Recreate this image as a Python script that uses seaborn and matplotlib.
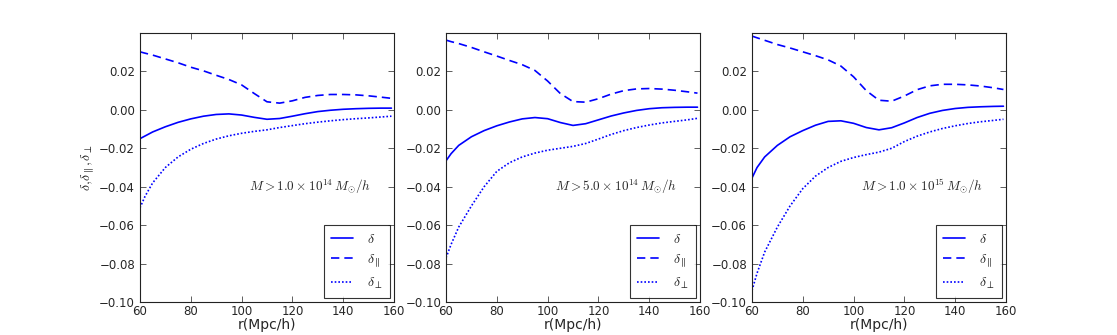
import numpy as np
import pandas as pd
import matplotlib
matplotlib.use("Agg")
import matplotlib.pyplot as plt
import seaborn as sns

# --- data ---
r = [60, 62, 65, 70, 75, 80, 85, 90, 95, 100, 105, 110, 115, 120, 125, 130, 135, 140, 145, 150, 155, 159]

# M > 1.0e14
d_1e14 = [-0.0150, -0.0136, -0.0115, -0.0088, -0.0065, -0.0047, -0.0033, -0.0024, -0.0021, -0.0027, -0.0039,
          -0.0049, -0.0045, -0.0033, -0.0020, -0.0009, -0.0002, 0.0003, 0.0006, 0.0008, 0.0009, 0.0009]
dpar_1e14 = [0.0302, 0.0295, 0.0285, 0.0265, 0.0245, 0.0222, 0.0203, 0.0180, 0.0158, 0.0130, 0.0085,
             0.0042, 0.0035, 0.0047, 0.0065, 0.0075, 0.0080, 0.0080, 0.0078, 0.0073, 0.0066, 0.0060]
dperp_1e14 = [-0.0510, -0.0450, -0.0380, -0.0300, -0.0245, -0.0205, -0.0175, -0.0152, -0.0135, -0.0122, -0.0112,
              -0.0104, -0.0092, -0.0082, -0.0072, -0.0064, -0.0057, -0.0051, -0.0046, -0.0042, -0.0037, -0.0033]

# M > 5.0e14
d_5e14 = [-0.0265, -0.0228, -0.0185, -0.0140, -0.0108, -0.0083, -0.0063, -0.0047, -0.0040, -0.0046, -0.0066,
          -0.0081, -0.0072, -0.0052, -0.0032, -0.0016, -0.0003, 0.0006, 0.0011, 0.0013, 0.0014, 0.0014]
dpar_5e14 = [0.0363, 0.0355, 0.0345, 0.0325, 0.0302, 0.0280, 0.0257, 0.0235, 0.0205, 0.0150, 0.0085,
             0.0043, 0.0040, 0.0058, 0.0082, 0.0100, 0.0109, 0.0111, 0.0108, 0.0102, 0.0094, 0.0087]
dperp_5e14 = [-0.0770, -0.0700, -0.0610, -0.0500, -0.0400, -0.0320, -0.0275, -0.0245, -0.0225, -0.0210, -0.0200,
              -0.0190, -0.0175, -0.0152, -0.0128, -0.0108, -0.0092, -0.0079, -0.0068, -0.0060, -0.0052, -0.0044]

# M > 1.0e15
d_1e15 = [-0.0355, -0.0300, -0.0245, -0.0185, -0.0140, -0.0108, -0.0080, -0.0060, -0.0057, -0.0070, -0.0092,
          -0.0104, -0.0093, -0.0068, -0.0040, -0.0018, -0.0003, 0.0007, 0.0013, 0.0016, 0.0018, 0.0019]
dpar_1e15 = [0.0384, 0.0375, 0.0362, 0.0340, 0.0322, 0.0302, 0.0282, 0.0260, 0.0228, 0.0172, 0.0100,
             0.0050, 0.0045, 0.0072, 0.0105, 0.0125, 0.0133, 0.0133, 0.0130, 0.0124, 0.0115, 0.0106]
dperp_1e15 = [-0.0940, -0.0850, -0.0740, -0.0610, -0.0500, -0.0410, -0.0345, -0.0300, -0.0268, -0.0248, -0.0233,
              -0.0220, -0.0200, -0.0165, -0.0137, -0.0115, -0.0097, -0.0083, -0.0071, -0.0062, -0.0055, -0.0049]

panel_labels = [r"$M>1.0\times10^{14}\,M_{\odot}/h$",
                r"$M>5.0\times10^{14}\,M_{\odot}/h$",
                r"$M>1.0\times10^{15}\,M_{\odot}/h$"]
panels = [(d_1e14, dpar_1e14, dperp_1e14),
          (d_5e14, dpar_5e14, dperp_5e14),
          (d_1e15, dpar_1e15, dperp_1e15)]
series_names = [r"$\delta$", r"$\delta_{\parallel}$", r"$\delta_{\perp}$"]
yticks = [0.02, 0.00, -0.02, -0.04, -0.06, -0.08, -0.10]
xticks = [60, 80, 100, 120, 140, 160]

sns.set_style("ticks")
plt.rcParams["mathtext.fontset"] = "cm"
plt.rcParams["font.family"] = ["DejaVu Sans"]

fig = plt.figure(figsize=(11.17, 3.35), dpi=100)
lefts = [0.1253, 0.3993, 0.6732]

for i, (vals, label) in enumerate(zip(panels, panel_labels)):
    ax = fig.add_axes([lefts[i], 0.0985, 0.2274, 0.803])
    df = pd.DataFrame({
        "r": r * 3,
        "val": list(vals[0]) + list(vals[1]) + list(vals[2]),
        "series": [series_names[0]] * len(r) + [series_names[1]] * len(r) + [series_names[2]] * len(r),
    })
    sns.lineplot(data=df, x="r", y="val", style="series", style_order=series_names,
                 dashes={series_names[0]: "", series_names[1]: (5, 3), series_names[2]: (1, 1.2)},
                 color="blue", linewidth=1.2, ax=ax)
    ax.set_xlim(60, 160)
    ax.set_ylim(-0.10, 0.04)
    ax.set_xticks(xticks)
    ax.set_yticks(yticks)
    ax.set_yticklabels([f"{t:.2f}".replace("-", "\u2212") for t in yticks])
    ax.tick_params(direction="in", top=True, right=True, labelsize=8.5, length=4, width=0.6, color="#444444")
    ax.tick_params(axis="x", pad=2)
    for sp in ax.spines.values():
        sp.set_color("#222222")
        sp.set_linewidth(0.8)
    ax.set_xlabel("r(Mpc/h)", fontsize=10, labelpad=0)
    if i == 0:
        ax.set_ylabel(r"$\delta,\!\delta_{\parallel},\!\delta_{\perp}$", fontsize=10, labelpad=2)
    else:
        ax.set_ylabel("")
    ax.text(103, -0.040, label, fontsize=9.5, ha="left", va="center")
    handles, labels = ax.get_legend_handles_labels()
    leg = ax.legend(handles, labels, loc="lower right", fontsize=10, frameon=True, fancybox=False,
                    handlelength=1.6, borderpad=0.5, labelspacing=0.45, handletextpad=1.0,
                    borderaxespad=0.3)
    leg.get_frame().set_edgecolor("black")
    leg.get_frame().set_linewidth(0.8)

fig.savefig("out.png", dpi=100)
